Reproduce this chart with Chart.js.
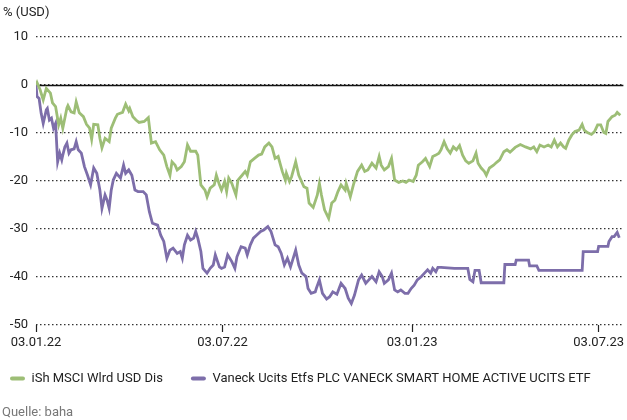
<!DOCTYPE html>
<html>
<head>
<meta charset="utf-8">
<script src="https://cdn.jsdelivr.net/npm/chart.js@4.4.0/dist/chart.umd.min.js"></script>
<style>
    html, body { margin: 0; padding: 0; background: #fff; }
    #wrap { width: 627px; height: 420px; }
</style>
</head>
<body>
<div id="wrap"><canvas id="chart" width="627" height="420"></canvas></div>
<script>
// Days counted from 03.01.22
const tickDays = [0, 181, 365, 546];
const tickLabels = ['03.01.22', '03.07.22', '03.01.23', '03.07.23'];

const msciLabel = 'iSh MSCI Wlrd USD Dis';
const msciDays = [0, 1, 4, 7, 10, 14, 16, 19, 22, 24, 26, 30, 31, 34, 37, 39, 42, 46, 49, 52, 54, 56, 60, 62, 64, 67, 71, 73, 77, 79, 84, 87, 90, 91, 94, 97, 100, 105, 109, 112, 116, 120, 124, 127, 130, 132, 135, 137, 141, 144, 147, 150, 155, 157, 160, 164, 166, 169, 173, 175, 178, 180, 183, 185, 187, 190, 194, 196, 200, 203, 205, 208, 212, 216, 219, 222, 226, 229, 232, 235, 239, 242, 243, 246, 248, 252, 255, 260, 263, 265, 269, 273, 275, 277, 280, 284, 287, 290, 293, 296, 300, 301, 305, 308, 312, 316, 319, 322, 326, 330, 333, 335, 338, 342, 345, 348, 352, 356, 359, 362, 366, 369, 371, 375, 378, 382, 385, 388, 391, 393, 396, 399, 402, 405, 408, 411, 414, 417, 420, 424, 427, 429, 432, 435, 437, 440, 444, 447, 450, 454, 457, 460, 465, 470, 475, 480, 483, 486, 489, 493, 497, 500, 503, 506, 509, 512, 514, 517, 520, 523, 527, 530, 532, 535, 539, 542, 545, 548, 551, 553, 555, 559, 562, 564, 567];
const msciValues = [0, 0.5, -1, -3.1, -0.7, -1.7, -3.7, -4.5, -8.3, -6.9, -9, -4.8, -4.3, -5.6, -5.8, -3.5, -5.8, -6.6, -8.2, -9, -11.3, -8.2, -8.3, -11.1, -13.1, -11.1, -11.8, -9, -6.9, -6.1, -5.7, -4, -5.4, -4.9, -6.6, -7.3, -7.8, -7.6, -6.8, -12.1, -11.8, -13.5, -14.6, -17, -18.8, -16, -16.7, -17.7, -17, -16, -12.5, -13.8, -13.8, -14.6, -20.8, -21.9, -23.3, -21.5, -20.8, -18.8, -20.8, -21.9, -20.1, -22.2, -19.4, -20.5, -22.9, -19.8, -18.8, -18, -18.8, -16, -15.3, -14.6, -14.4, -12.9, -12.1, -12.9, -15.3, -14.9, -18, -19.8, -18.4, -20.1, -19.1, -16, -18.8, -21.2, -21.5, -24.6, -25.5, -22.9, -20.5, -22.9, -26, -27.8, -24.6, -24, -22.2, -20.8, -21.9, -20.5, -23.3, -20.8, -18, -16.7, -18, -17.7, -16.3, -17.3, -14.9, -16.7, -17.7, -17, -15.3, -19.8, -20.3, -20, -20.3, -19.8, -20.1, -18.8, -16.7, -16, -15.3, -17, -14.9, -14.6, -14.2, -13.5, -11.8, -13.3, -14.2, -12.9, -13.5, -12.6, -14.6, -15.8, -16.3, -15.8, -14.2, -16.3, -17.3, -18, -18.8, -17.3, -16.7, -16.1, -15.6, -13.9, -13.5, -14, -13, -12.4, -12.9, -13.3, -12.9, -13.9, -12.5, -12.9, -12.5, -12.9, -11.5, -12.9, -12.1, -12.9, -13.2, -11.5, -10.4, -9.7, -9.4, -8.2, -9.4, -9.9, -10.3, -9.7, -8.3, -8.3, -9.9, -10.1, -7.6, -6.6, -6.3, -5.7, -6.3];

const vaneckLabel = 'Vaneck Ucits Etfs PLC VANECK SMART HOME ACTIVE UCITS ETF';
const vaneckDays = [0, 1, 3, 5, 7, 10, 11, 13, 15, 17, 19, 21, 23, 25, 26, 28, 30, 32, 34, 37, 39, 41, 44, 47, 50, 53, 56, 59, 62, 64, 67, 69, 71, 73, 75, 78, 82, 85, 87, 90, 93, 96, 99, 104, 107, 110, 113, 118, 121, 124, 127, 130, 133, 137, 140, 142, 144, 147, 150, 153, 155, 157, 160, 162, 166, 169, 172, 174, 178, 180, 183, 186, 190, 193, 195, 199, 203, 205, 208, 211, 214, 218, 221, 225, 228, 232, 235, 238, 241, 244, 247, 250, 252, 255, 258, 262, 264, 267, 271, 272, 275, 278, 282, 285, 288, 292, 296, 300, 303, 306, 309, 313, 316, 320, 323, 326, 330, 333, 336, 338, 342, 345, 348, 351, 354, 358, 361, 364, 367, 370, 374, 377, 380, 383, 385, 388, 390, 393, 406, 419, 421, 424, 426, 430, 432, 454, 455, 465, 466, 478, 479, 486, 488, 530, 531, 545, 546, 555, 556, 559, 561, 564, 566];
const vaneckValues = [0, -2.4, -2.8, -5.9, -8, -5.2, -4.9, -7.3, -6.9, -9, -8, -16, -14.2, -15.6, -14.6, -12.9, -12.1, -14.2, -13.5, -13.3, -11.8, -13.5, -14.2, -17, -18.8, -20.8, -17.3, -18.4, -21.9, -25.7, -22.9, -24, -25.7, -21.9, -19.8, -18.4, -19.4, -16.7, -18.4, -17.7, -18.8, -21.9, -22.2, -22.2, -22.9, -26.4, -28.8, -29.2, -31.3, -32.6, -36.1, -34.4, -34, -35.1, -34.7, -36.1, -33.3, -31.3, -32.3, -31.9, -30.5, -31.9, -34.7, -38.2, -39.2, -38.2, -37.5, -35.4, -37.9, -38.2, -37.9, -35.4, -36.8, -38.2, -35.8, -33.7, -34, -35.4, -33.3, -31.9, -31.3, -30.5, -30.2, -29.5, -30.5, -33.3, -33.7, -35.1, -37.5, -36.1, -37.9, -35.8, -34.4, -37.5, -39.2, -39.9, -42.4, -43.4, -43.1, -42.4, -40.6, -43.4, -44.6, -44.1, -43.1, -43.6, -41.3, -42.4, -44.4, -45.5, -43.8, -40.6, -39.6, -41.3, -40.6, -39.9, -41, -38.9, -39.9, -41.3, -40.6, -39.2, -42.7, -43.1, -42.7, -43.4, -43.4, -42.4, -41.7, -40.6, -39.9, -39.2, -38.5, -39.2, -38.2, -38.9, -38, -38, -38.2, -38.2, -40.5, -41, -38.6, -38.6, -41.2, -41.2, -37.4, -37.4, -36.5, -36.5, -37.7, -37.7, -38.6, -38.6, -34.7, -34.7, -33.6, -33.6, -32.6, -31.6, -31.6, -30.7, -31.8];

const msciColor = '#9dbe76';
const vaneckColor = '#7d6eaa';
const textColor = '#222';
const fontFamily = 'Roboto, "Liberation Sans", Arial, sans-serif';

Chart.defaults.font.family = fontFamily;
Chart.defaults.font.size = 13;
Chart.defaults.color = textColor;

function toPoints(days, values) {
    return days.map((d, i) => ({ x: d, y: values[i] }));
}

// Solid zero line under the data, plus the unit and source notes
const extras = {
    id: 'extras',
    afterLayout(chart) {
        // legend padding is large for horizontal spacing, pull the row up a bit
        chart.legend.top -= 6;
        chart.legend.bottom -= 6;
    },
    beforeDatasetsDraw(chart) {
        const { ctx, chartArea, scales } = chart;
        const y = Math.round(scales.y.getPixelForValue(0)) + 0.5;
        ctx.save();
        ctx.strokeStyle = '#111';
        ctx.lineWidth = 1.5;
        ctx.beginPath();
        ctx.moveTo(chartArea.left, y);
        ctx.lineTo(chartArea.right, y);
        ctx.stroke();
        ctx.restore();
    },
    afterDraw(chart) {
        const { ctx } = chart;
        ctx.save();
        ctx.font = '13px ' + fontFamily;
        ctx.textBaseline = 'middle';
        ctx.fillStyle = textColor;
        ctx.fillText('% (USD)', 3, 13);
        ctx.fillStyle = '#777';
        ctx.fillText('Quelle: baha', 2, 413);
        ctx.restore();
    }
};

new Chart(document.getElementById('chart'), {
    type: 'line',
    data: {
        datasets: [
            {
                label: msciLabel,
                data: toPoints(msciDays, msciValues),
                borderColor: msciColor,
                backgroundColor: msciColor,
                borderWidth: 2.8,
                pointRadius: 0,
                tension: 0
            },
            {
                label: vaneckLabel,
                data: toPoints(vaneckDays, vaneckValues),
                borderColor: vaneckColor,
                backgroundColor: vaneckColor,
                borderWidth: 2.8,
                pointRadius: 0,
                tension: 0
            }
        ]
    },
    options: {
        responsive: false,
        animation: false,
        layout: {
            padding: { left: -18, right: 0, top: 37, bottom: 19 }
        },
        plugins: {
            legend: {
                position: 'bottom',
                align: 'start',
                labels: {
                    boxWidth: 15,
                    boxHeight: 4,
                    useBorderRadius: true,
                    borderRadius: 2,
                    padding: 28,
                    color: textColor,
                    generateLabels(chart) {
                        return Chart.defaults.plugins.legend.labels.generateLabels(chart)
                            .map(item => ({ ...item, lineWidth: 0 }));
                    }
                }
            },
            tooltip: { enabled: false }
        },
        scales: {
            x: {
                type: 'linear',
                min: 0,
                max: 570,
                afterBuildTicks(axis) {
                    axis.ticks = tickDays.map(v => ({ value: v }));
                },
                afterFit(axis) {
                    axis.height = 25;
                },
                border: { display: false },
                grid: {
                    drawOnChartArea: false,
                    drawTicks: true,
                    tickLength: 7,
                    tickColor: textColor,
                    tickWidth: 1.2
                },
                ticks: {
                    autoSkip: false,
                    maxRotation: 0,
                    padding: 3,
                    color: textColor,
                    callback: (value, index) => tickLabels[index]
                }
            },
            y: {
                min: -50,
                max: 10,
                afterFit(axis) {
                    axis.width = 54;
                },
                border: { display: false, dash: [1.5, 2.5] },
                grid: {
                    drawTicks: false,
                    color: '#333',
                    lineWidth: 1.2
                },
                ticks: {
                    stepSize: 10,
                    padding: 8,
                    color: textColor
                }
            }
        }
    },
    plugins: [extras]
});
</script>
</body>
</html>
